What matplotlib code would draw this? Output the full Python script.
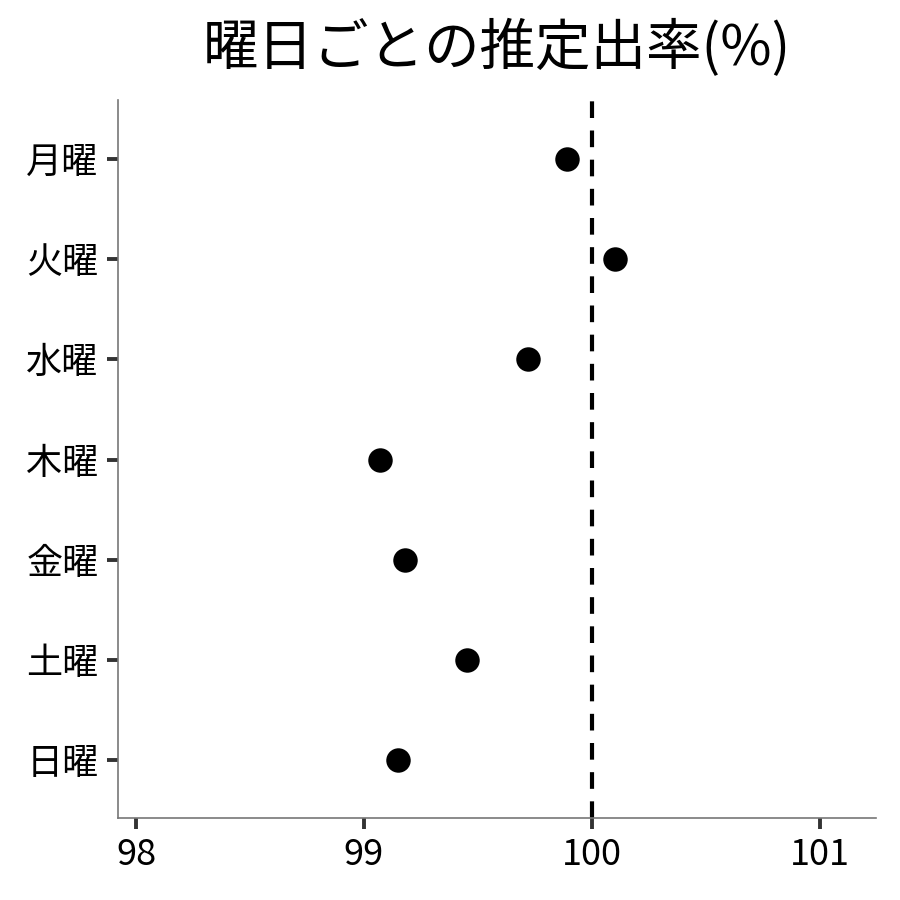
import matplotlib.pyplot as plt
import numpy as np

days = ['月曜', '火曜', '水曜', '木曜', '金曜', '土曜', '日曜']
rate = [99.89, 100.10, 99.72, 99.07, 99.18, 99.45, 99.15]
xticks = [98, 99, 100, 101]

plt.rcParams['font.family'] = ['Noto Sans CJK JP', 'DejaVu Sans']

fig = plt.figure(figsize=(9, 9), dpi=100)
ax = fig.add_axes([118/900, 82/900, 758/900, 718/900])

ypos = np.arange(len(days))[::-1]
ax.scatter(rate, ypos, s=310, color='black', zorder=3, linewidths=0)
ax.axvline(100, color='black', linestyle=(0, (4, 3)), linewidth=3, zorder=2)

ax.set_xlim(97.921, 101.246)
ax.set_ylim(-0.58, 6.59)
ax.set_xticks(xticks)
ax.set_xticklabels([str(v) for v in xticks])
ax.set_yticks(ypos)
ax.set_yticklabels(days)

for side in ['top', 'right']:
    ax.spines[side].set_visible(False)
for side in ['left', 'bottom']:
    ax.spines[side].set_color('#777777')
    ax.spines[side].set_linewidth(1.2)

ax.tick_params(axis='both', length=8, width=2.8, color='#333333', labelsize=26, labelcolor='black')
ax.tick_params(axis='x', pad=6)
ax.tick_params(axis='y', pad=6)

ax.set_title('曜日ごとの推定出率(%)', fontsize=40, pad=25)

fig.savefig('out.png', dpi=100)
